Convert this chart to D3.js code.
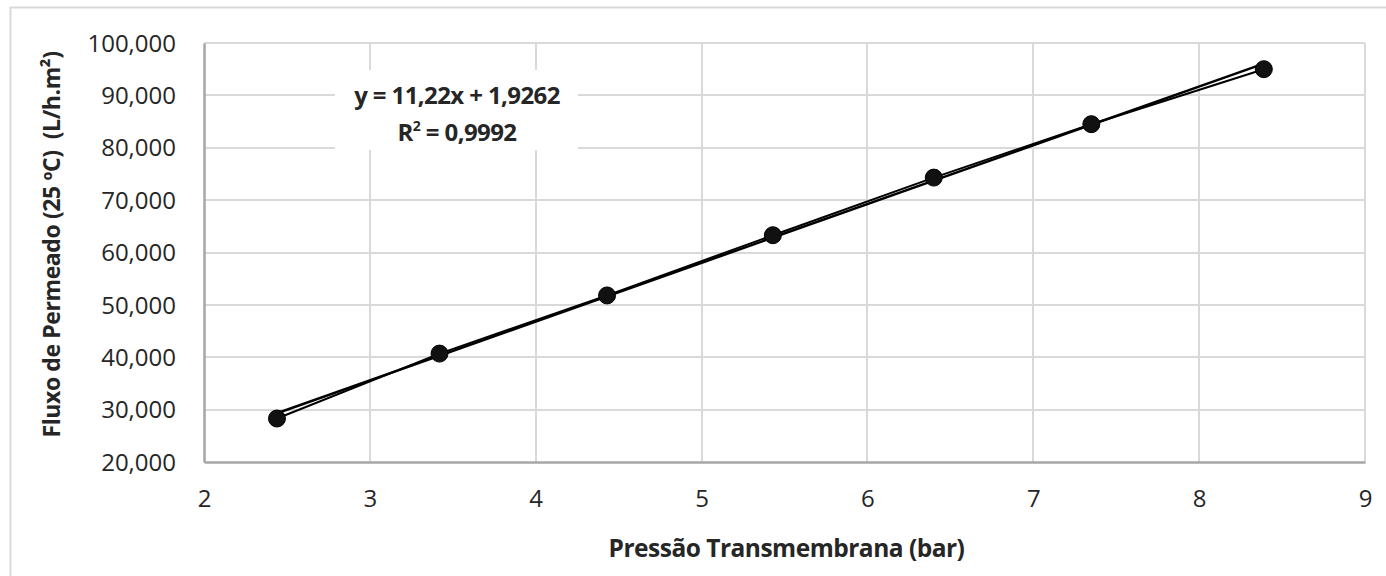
<!DOCTYPE html>
<html>
<head>
<meta charset="utf-8">
<script src="https://cdn.jsdelivr.net/npm/d3@7"></script>
<style>
  html, body { margin: 0; padding: 0; background: #fff; }
  svg { display: block; }
  text { font-family: "Open Sans", "Noto Sans", sans-serif; fill: #262626; }
</style>
</head>
<body>
<svg id="chart" width="1386" height="576"></svg>
<script>
// Transmembrane pressure (bar) and permeate flux at 25 °C (L/h.m²)
const pressure = [2.44, 3.42, 4.43, 5.43, 6.40, 7.35, 8.39];
const flux = [28.3, 40.7, 51.8, 63.3, 74.3, 84.5, 95.0];

// Linear trendline fitted to the series
const slope = 11.22;
const intercept = 1.9262;
const rSquared = 0.9992;

const xTicks = [2, 3, 4, 5, 6, 7, 8, 9];
const yTicks = [20, 30, 40, 50, 60, 70, 80, 90, 100];

const xTitle = "Pressão Transmembrana (bar)";
const yTitle = "Fluxo de Permeado (25 ºC)\u00a0\u00a0(L/h.m²)";

const svg = d3.select("#chart");
const W = 1386, H = 576;
const plot = { left: 204, right: 1365, top: 43, bottom: 462 };

// outer chart frame
svg.append("rect")
  .attr("x", 10.5).attr("y", 7.5)
  .attr("width", W + 20).attr("height", H + 20)
  .attr("fill", "#fff").attr("stroke", "#d9d9d9").attr("stroke-width", 2);

const x = d3.scaleLinear().domain([2, 9]).range([plot.left, plot.right]);
const y = d3.scaleLinear().domain([20, 100]).range([plot.bottom, plot.top]);

// tick labels with three decimals and a decimal comma: 20 -> "20,000"
const yFmt = v => d3.format(".3f")(v).replace(".", ",");

// gridlines
const grid = svg.append("g").attr("stroke", "#d9d9d9").attr("stroke-width", 2);
grid.selectAll("line.h").data(yTicks.slice(1)).join("line")
  .attr("x1", plot.left).attr("x2", plot.right)
  .attr("y1", d => Math.round(y(d))).attr("y2", d => Math.round(y(d)));
grid.selectAll("line.v").data(xTicks.slice(1)).join("line")
  .attr("x1", d => Math.round(x(d))).attr("x2", d => Math.round(x(d)))
  .attr("y1", plot.top).attr("y2", plot.bottom);

// axes
const xAxis = svg.append("g")
  .attr("transform", `translate(0,${plot.bottom})`)
  .call(d3.axisBottom(x).tickValues(xTicks).tickSize(0).tickPadding(28)
    .tickFormat(d3.format("d")));
const yAxis = svg.append("g")
  .attr("transform", `translate(${plot.left},0)`)
  .call(d3.axisLeft(y).tickValues(yTicks).tickSize(0).tickPadding(28)
    .tickFormat(yFmt));

[xAxis, yAxis].forEach(a => {
  a.select(".domain").attr("stroke", "#a6a6a6").attr("stroke-width", 2.5);
  a.selectAll("text").attr("font-size", 24).attr("fill", "#262626")
    .attr("font-family", "'Open Sans', sans-serif");
});
yAxis.selectAll("text").attr("dy", "0.34em");

// data series line
const line = d3.line().x((d, i) => x(pressure[i])).y(d => y(d));
svg.append("path")
  .datum(flux)
  .attr("d", line)
  .attr("fill", "none")
  .attr("stroke", "#000")
  .attr("stroke-width", 2);

// linear trendline across the data range
const x0 = d3.min(pressure), x1 = d3.max(pressure);
svg.append("line")
  .attr("x1", x(x0)).attr("y1", y(slope * x0 + intercept))
  .attr("x2", x(x1)).attr("y2", y(slope * x1 + intercept))
  .attr("stroke", "#000").attr("stroke-width", 2.5);

// markers
svg.append("g").selectAll("circle").data(flux).join("circle")
  .attr("cx", (d, i) => x(pressure[i]))
  .attr("cy", d => y(d))
  .attr("r", 8.5)
  .attr("fill", "#111")
  .attr("stroke", "#000").attr("stroke-width", 1);

// trendline equation label
const eqCx = 457;
svg.append("rect")
  .attr("x", 335).attr("y", 70).attr("width", 243).attr("height", 80)
  .attr("fill", "#fff");
svg.append("text")
  .attr("x", eqCx).attr("y", 104)
  .attr("text-anchor", "middle")
  .attr("font-size", 24).attr("font-weight", "bold")
  .attr("letter-spacing", -0.6)
  .text(`y = ${String(slope).replace(".", ",")}x + ${String(intercept).replace(".", ",")}`);
const r2 = svg.append("text")
  .attr("x", eqCx).attr("y", 141)
  .attr("text-anchor", "middle")
  .attr("font-size", 24).attr("font-weight", "bold")
  .attr("letter-spacing", -0.6);
r2.append("tspan").text("R");
r2.append("tspan").attr("font-size", 14).attr("dy", -10).text("2");
r2.append("tspan").attr("dy", 10).text(` = ${String(rSquared).replace(".", ",")}`);

// axis titles
svg.append("text")
  .attr("x", (plot.left + plot.right) / 2 + 2).attr("y", 557)
  .attr("text-anchor", "middle")
  .attr("font-size", 24.5).attr("font-weight", "bold")
  .attr("letter-spacing", -0.5)
  .attr("fill", "#262626")
  .text(xTitle);

svg.append("text")
  .attr("transform", `translate(60,${(plot.top + plot.bottom) / 2 - 8}) rotate(-90)`)
  .attr("text-anchor", "middle")
  .attr("font-size", 23).attr("font-weight", "bold")
  .attr("letter-spacing", -0.4)
  .attr("fill", "#262626")
  .text(yTitle);
</script>
</body>
</html>
